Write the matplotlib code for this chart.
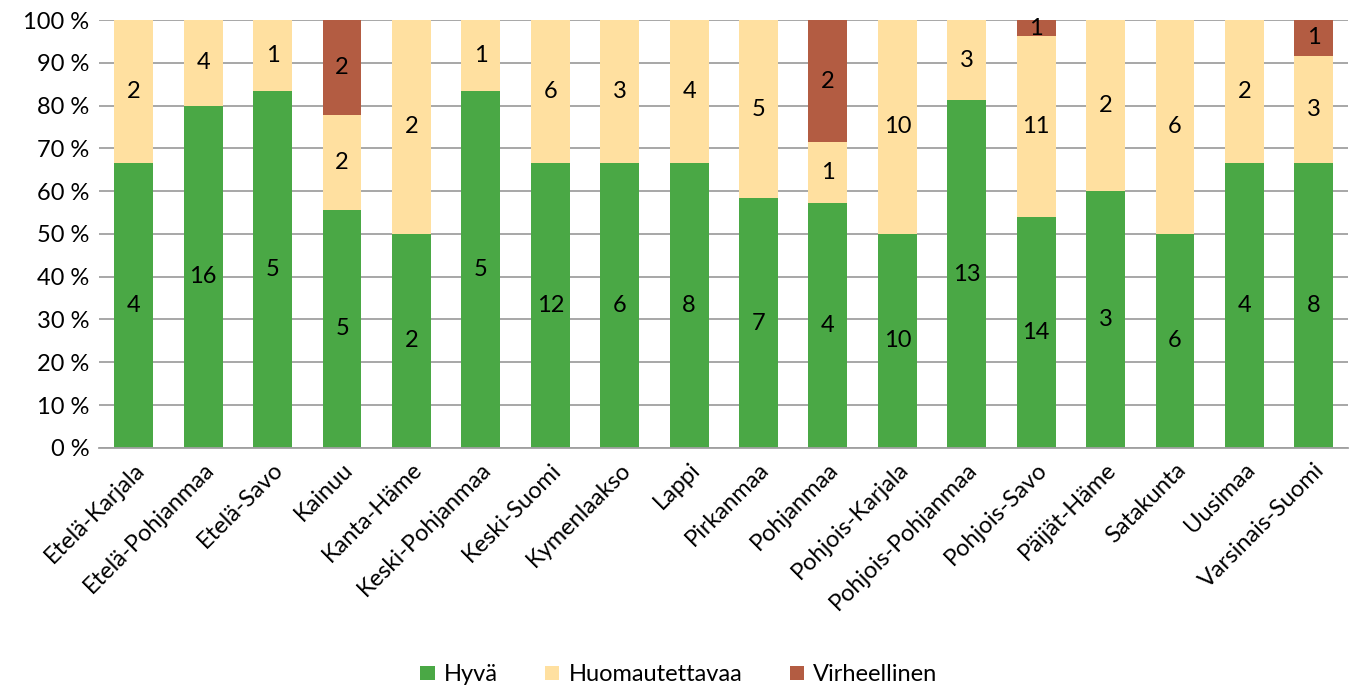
import numpy as np
import matplotlib
import matplotlib.pyplot as plt
from matplotlib.ticker import FuncFormatter
matplotlib.use('Agg')

plt.rcParams['font.family'] = ['Lato', 'DejaVu Sans']

regions = ['Etelä-Karjala', 'Etelä-Pohjanmaa', 'Etelä-Savo', 'Kainuu', 'Kanta-Häme',
           'Keski-Pohjanmaa', 'Keski-Suomi', 'Kymenlaakso', 'Lappi', 'Pirkanmaa',
           'Pohjanmaa', 'Pohjois-Karjala', 'Pohjois-Pohjanmaa', 'Pohjois-Savo',
           'Päijät-Häme', 'Satakunta', 'Uusimaa', 'Varsinais-Suomi']
hyva = [4, 16, 5, 5, 2, 5, 12, 6, 8, 7, 4, 10, 13, 14, 3, 6, 4, 8]
huomautettavaa = [2, 4, 1, 2, 2, 1, 6, 3, 4, 5, 1, 10, 3, 11, 2, 6, 2, 3]
virheellinen = [0, 0, 0, 2, 0, 0, 0, 0, 0, 0, 2, 0, 0, 1, 0, 0, 0, 1]

series = [('Hyvä', hyva, '#4aa845'),
          ('Huomautettavaa', huomautettavaa, '#ffe0a0'),
          ('Virheellinen', virheellinen, '#b35c42')]

counts = np.array([hyva, huomautettavaa, virheellinen], dtype=float)
totals = counts.sum(axis=0)
shares = counts / totals * 100

FS = 17

fig = plt.figure(figsize=(13.58, 6.9), dpi=100)
ax = fig.add_axes([0.073, 0.351, 0.920, 0.620])

x = np.arange(len(regions))
bottom = np.zeros(len(regions))
for (name, vals, color), share in zip(series, shares):
    bars = ax.bar(x, share, 0.56, bottom=bottom, color=color, label=name, zorder=2)
    for bar, v, s, b in zip(bars, vals, share, bottom):
        if v > 0:
            ax.text(bar.get_x() + bar.get_width() / 2, b + s / 2, str(v),
                    ha='center', va='center', fontsize=FS, color='black', zorder=3)
    bottom += share

ax.set_ylim(0, 100)
ax.set_xlim(-0.5, len(regions) - 0.5)
ax.set_yticks(np.arange(0, 101, 10))
ax.yaxis.set_major_formatter(FuncFormatter(lambda v, p: f'{v:.0f} %'))
ax.grid(axis='y', color='#a0a0a0', linewidth=1.3, zorder=0)
ax.set_axisbelow(True)
for side in ['top', 'right', 'left']:
    ax.spines[side].set_visible(False)
ax.spines['bottom'].set_color('#a0a0a0')
ax.spines['bottom'].set_linewidth(1.3)
ax.tick_params(axis='y', length=0, labelsize=FS, pad=7)
ax.tick_params(axis='x', length=0, labelsize=FS, pad=8)
ax.set_xticks(x)
ax.set_xticklabels(regions, rotation=45, ha='right', rotation_mode='anchor')

fig.legend(*ax.get_legend_handles_labels(), loc='center', bbox_to_anchor=(0.5, 0.022),
           ncol=3, frameon=False, fontsize=FS, handlelength=0.6, handleheight=0.6,
           columnspacing=2.0, handletextpad=0.4)

plt.savefig('out.png', dpi=100)
plt.close()
